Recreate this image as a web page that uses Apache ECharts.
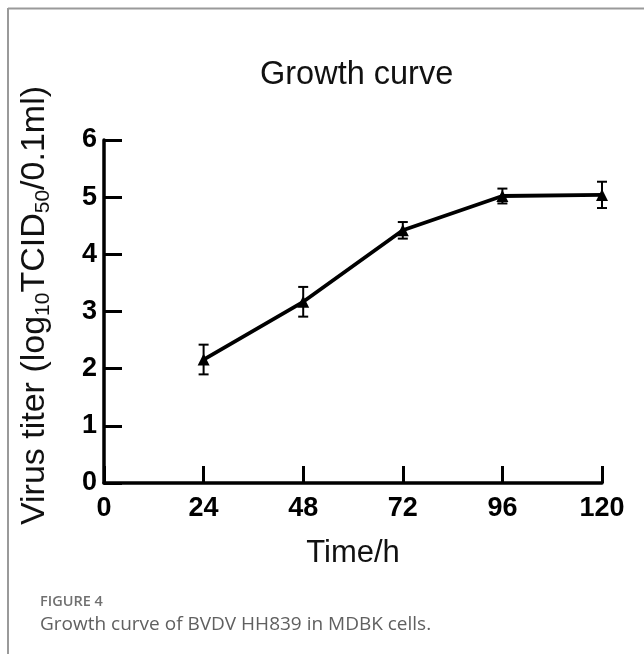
<!DOCTYPE html>
<html>
<head>
<meta charset="utf-8">
<script src="https://cdn.jsdelivr.net/npm/echarts@6/dist/echarts.min.js"></script>
<style>
html,body{margin:0;padding:0;background:#fff;}
#chart{width:644px;height:657px;}
</style>
</head>
<body>
<div id="chart"></div>
<script>
// Data
var times = [24, 48, 72, 96, 120];
var titerMean = [2.16, 3.17, 4.42, 5.02, 5.04];
var titerSD = [0.26, 0.26, 0.145, 0.13, 0.23];
var xTicks = [0, 24, 48, 72, 96, 120];
var yTicks = [0, 1, 2, 3, 4, 5, 6];
var titleText = 'Growth curve';
var xName = 'Time/h';
var figLabel = 'FIGURE 4';
var captionText = 'Growth curve of BVDV HH839 in MDBK cells.';

var lineData = times.map(function (t, i) { return [t, titerMean[i]]; });
var errData = times.map(function (t, i) { return [t, titerMean[i] - titerSD[i], titerMean[i] + titerSD[i]]; });

var FONT = '"Liberation Sans", Arial, sans-serif';
var chart = echarts.init(document.getElementById('chart'), null, {renderer: 'canvas'});

chart.setOption({
  animation: false,
  backgroundColor: '#fff',
  title: {
    text: titleText,
    left: 260,
    top: 59,
    padding: 0,
    textStyle: {fontFamily: FONT, fontSize: 32.5, fontWeight: 'normal', color: '#111'}
  },
  grid: {left: 104, right: 42, top: 140, bottom: 174, containLabel: false},
  xAxis: {
    type: 'value',
    min: xTicks[0],
    max: xTicks[xTicks.length - 1],
    interval: 24,
    name: xName,
    nameLocation: 'middle',
    nameGap: 55,
    nameTextStyle: {fontFamily: FONT, fontSize: 31, color: '#111'},
    axisLine: {show: true, lineStyle: {color: '#000', width: 3.5}},
    axisTick: {show: true, inside: true, length: 17, lineStyle: {color: '#000', width: 3}},
    axisLabel: {margin: 12, fontFamily: FONT, fontSize: 27, fontWeight: 'bold', color: '#000'},
    splitLine: {show: false}
  },
  yAxis: {
    type: 'value',
    min: yTicks[0],
    max: yTicks[yTicks.length - 1],
    interval: 1,
    name: 'Virus titer (log{s|10}TCID{s|50}/0.1ml)',
    nameLocation: 'middle',
    nameGap: 51,
    nameTextStyle: {
      fontFamily: FONT, fontSize: 34, color: '#111', lineHeight: 37,
      padding: [0, 0, 0, 12],
      rich: {
        s: {fontFamily: FONT, fontSize: 21, color: '#111', lineHeight: 21, padding: [18, 0, 0, 0]}
      }
    },
    axisLine: {show: true, lineStyle: {color: '#000', width: 3.5}},
    axisTick: {show: true, inside: true, length: 18, lineStyle: {color: '#000', width: 3}},
    axisLabel: {margin: 7, fontFamily: FONT, fontSize: 27, fontWeight: 'bold', color: '#000'},
    splitLine: {show: false}
  },
  series: [
    {
      type: 'line',
      data: lineData,
      symbol: 'triangle',
      symbolSize: 12,
      itemStyle: {color: '#000'},
      lineStyle: {color: '#000', width: 3.8},
      z: 3
    },
    {
      type: 'custom',
      data: errData,
      z: 4,
      renderItem: function (params, api) {
        var x = api.value(0);
        var lo = api.coord([x, api.value(1)]);
        var hi = api.coord([x, api.value(2)]);
        var hw = 5;
        var st = {stroke: '#000', lineWidth: 2};
        return {
          type: 'group',
          children: [
            {type: 'line', shape: {x1: hi[0], y1: hi[1], x2: lo[0], y2: lo[1]}, style: st},
            {type: 'line', shape: {x1: hi[0] - hw, y1: hi[1], x2: hi[0] + hw, y2: hi[1]}, style: st},
            {type: 'line', shape: {x1: lo[0] - hw, y1: lo[1], x2: lo[0] + hw, y2: lo[1]}, style: st}
          ]
        };
      }
    }
  ],
  graphic: [
    {type: 'line', shape: {x1: 8, y1: 8.5, x2: 644, y2: 8.5}, style: {stroke: '#9a9a9a', lineWidth: 2}},
    {type: 'line', shape: {x1: 8, y1: 8, x2: 8, y2: 654}, style: {stroke: '#9a9a9a', lineWidth: 2}},
    {type: 'text', left: 40, top: 594, style: {text: figLabel, fontFamily: '"Open Sans", sans-serif', fontSize: 14.5, fontWeight: 600, fill: '#707070'}},
    {type: 'text', left: 40, top: 615, style: {text: captionText, fontFamily: '"Open Sans", sans-serif', fontSize: 19, fill: '#606060'}}
  ]
});
</script>
</body>
</html>
